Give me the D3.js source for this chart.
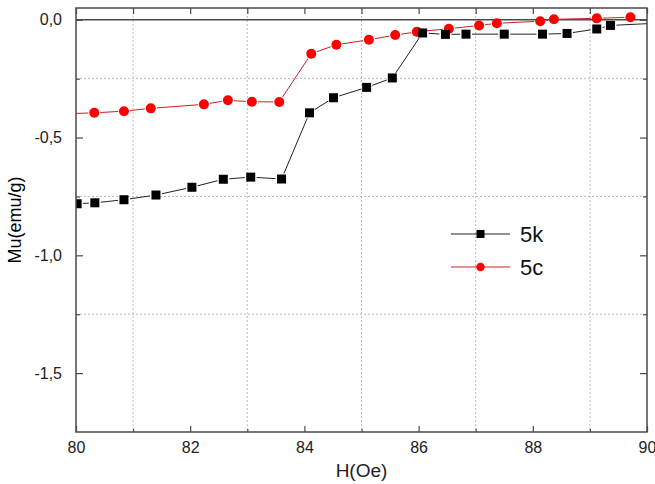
<!DOCTYPE html>
<html>
<head>
<meta charset="utf-8">
<script src="https://cdn.jsdelivr.net/npm/d3@7"></script>
<style>
  body { margin: 0; background: #fff; }
  svg { display: block; font-family: "Liberation Sans", Arial, sans-serif; }
</style>
</head>
<body>
<div class="main"></div>
<script>
// Données
const h5k = [80.02, 80.33, 80.84, 81.40, 82.03, 82.58, 83.06, 83.60, 84.09, 84.51, 85.09, 85.54, 86.07, 86.47, 86.83, 87.50, 88.17, 88.60, 89.12, 89.36, 90.40];
const mu5k = [-0.781, -0.777, -0.764, -0.744, -0.711, -0.677, -0.668, -0.676, -0.395, -0.331, -0.287, -0.247, -0.056, -0.062, -0.061, -0.061, -0.061, -0.058, -0.039, -0.024, -0.012];
const h5c = [79.70, 80.32, 80.84, 81.31, 82.24, 82.66, 83.08, 83.56, 84.12, 84.56, 85.13, 85.59, 85.97, 86.53, 87.06, 87.37, 88.13, 88.37, 89.12, 89.71];
const mu5c = [-0.400, -0.395, -0.388, -0.376, -0.359, -0.342, -0.348, -0.349, -0.144, -0.106, -0.085, -0.065, -0.051, -0.038, -0.024, -0.015, -0.006, 0.002, 0.006, 0.011];
const xTicks = [80, 82, 84, 86, 88, 90];
const xMinor = [81, 83, 85, 87, 89];
const yTicks = [0, -0.5, -1.0, -1.5];
const yMinor = [-0.25, -0.75, -1.25];
const seriesNames = ['5k', '5c'];

// Paramètres de la visualisation
const width = 655;
const height = 484;
const margin = { top: 8, right: 8, bottom: 52, left: 76 };
const frameColor = '#4a4a4a';
const textColor = '#222';

const svg = d3.select('.main')
  .append('svg')
  .attr('width', width)
  .attr('height', height);

const x = d3.scaleLinear()
  .domain([80, 90])
  .range([margin.left, width - margin.right]);

const y = d3.scaleLinear()
  .domain([-1.75, 0.05])
  .range([height - margin.bottom, margin.top]);

const fmt = d => d3.format('.1f')(d).replace('.', ',').replace('−', '-');

// Grille pointillée (sur les graduations mineures)
svg.append('g')
  .selectAll('line')
  .data(xMinor)
  .enter()
  .append('line')
  .attr('x1', d => x(d)).attr('x2', d => x(d))
  .attr('y1', margin.top).attr('y2', height - margin.bottom)
  .attr('stroke', '#bdbdbd')
  .attr('stroke-dasharray', '2,2');

svg.append('g')
  .selectAll('line')
  .data(yMinor)
  .enter()
  .append('line')
  .attr('y1', d => y(d)).attr('y2', d => y(d))
  .attr('x1', margin.left).attr('x2', width - margin.right)
  .attr('stroke', '#bdbdbd')
  .attr('stroke-dasharray', '2,2');

// Ligne zéro
svg.append('line')
  .attr('x1', margin.left).attr('x2', width - margin.right)
  .attr('y1', y(0)).attr('y2', y(0))
  .attr('stroke', frameColor)
  .attr('stroke-width', 1.5);

// Découpe de la zone de tracé
svg.append('clipPath')
  .attr('id', 'clip')
  .append('rect')
  .attr('x', margin.left).attr('y', margin.top)
  .attr('width', width - margin.left - margin.right)
  .attr('height', height - margin.top - margin.bottom);

const plot = svg.append('g').attr('clip-path', 'url(#clip)');

function segments(hs, mus, gap) {
  const pts = hs.map((h, i) => [x(h), y(mus[i])]);
  const segs = [];
  for (let i = 0; i < pts.length - 1; i++) {
    const [x0, y0] = pts[i], [x1, y1] = pts[i + 1];
    const len = Math.hypot(x1 - x0, y1 - y0);
    if (len <= 2 * gap) continue;
    const ux = (x1 - x0) / len, uy = (y1 - y0) / len;
    segs.push([x0 + ux * gap, y0 + uy * gap, x1 - ux * gap, y1 - uy * gap]);
  }
  return segs;
}

// Série 5c (rouge)
plot.append('g')
  .selectAll('line')
  .data(segments(h5c, mu5c, 6))
  .enter()
  .append('line')
  .attr('x1', d => d[0]).attr('y1', d => d[1])
  .attr('x2', d => d[2]).attr('y2', d => d[3])
  .attr('stroke', '#cc2020')
  .attr('stroke-width', 1);

plot.append('g')
  .selectAll('circle')
  .data(h5c.map((h, i) => [h, mu5c[i]]))
  .enter()
  .append('circle')
  .attr('cx', d => x(d[0]))
  .attr('cy', d => y(d[1]))
  .attr('r', 5)
  .attr('fill', '#ff0000');

// Série 5k (noire)
plot.append('g')
  .selectAll('line')
  .data(segments(h5k, mu5k, 6))
  .enter()
  .append('line')
  .attr('x1', d => d[0]).attr('y1', d => d[1])
  .attr('x2', d => d[2]).attr('y2', d => d[3])
  .attr('stroke', '#222')
  .attr('stroke-width', 1);

plot.append('g')
  .selectAll('rect')
  .data(h5k.map((h, i) => [h, mu5k[i]]))
  .enter()
  .append('rect')
  .attr('x', d => x(d[0]) - 4.5)
  .attr('y', d => y(d[1]) - 4.5)
  .attr('width', 9)
  .attr('height', 9)
  .attr('fill', '#000');

// Cadre
svg.append('rect')
  .attr('x', margin.left).attr('y', margin.top)
  .attr('width', width - margin.left - margin.right)
  .attr('height', height - margin.top - margin.bottom)
  .attr('fill', 'none')
  .attr('stroke', frameColor)
  .attr('stroke-width', 1.5);

// Axes (graduations vers l'intérieur)
const axisStyle = g => {
  g.select('.domain').remove();
  g.selectAll('line').attr('stroke', frameColor).attr('stroke-width', 1.2);
  g.selectAll('text').attr('fill', textColor).style('font-size', '16px');
};

svg.append('g')
  .attr('transform', `translate(0, ${height - margin.bottom})`)
  .call(d3.axisBottom(x).tickValues(xTicks).tickSize(-6).tickPadding(10).tickFormat(d3.format('d')))
  .call(axisStyle);

svg.append('g')
  .attr('transform', `translate(0, ${height - margin.bottom})`)
  .call(d3.axisBottom(x).tickValues(xMinor).tickSize(-3).tickFormat(''))
  .call(axisStyle);

svg.append('g')
  .attr('transform', `translate(0, ${margin.top})`)
  .call(d3.axisTop(x).tickValues(xTicks.concat(xMinor)).tickSize(-6).tickFormat(''))
  .call(axisStyle);

svg.append('g')
  .attr('transform', `translate(${margin.left}, 0)`)
  .call(d3.axisLeft(y).tickValues(yTicks).tickSize(-7).tickPadding(14).tickFormat(fmt))
  .call(axisStyle);

svg.append('g')
  .attr('transform', `translate(${margin.left}, 0)`)
  .call(d3.axisLeft(y).tickValues(yMinor).tickSize(-4).tickFormat(''))
  .call(axisStyle);

svg.append('g')
  .attr('transform', `translate(${width - margin.right}, 0)`)
  .call(d3.axisRight(y).tickValues(yTicks).tickSize(-7).tickFormat(''))
  .call(axisStyle);

svg.append('g')
  .attr('transform', `translate(${width - margin.right}, 0)`)
  .call(d3.axisRight(y).tickValues(yMinor).tickSize(-4).tickFormat(''))
  .call(axisStyle);

// Titres des axes
svg.append('text')
  .attr('x', (margin.left + width - margin.right) / 2)
  .attr('y', 477)
  .attr('text-anchor', 'middle')
  .attr('fill', textColor)
  .style('font-size', '19px')
  .text('H(Oe)');

svg.append('text')
  .attr('transform', `translate(21, ${(margin.top + height - margin.bottom) / 2}) rotate(-90)`)
  .attr('text-anchor', 'middle')
  .attr('fill', '#000')
  .style('font-size', '18px')
  .text('Mu(emu/g)');

// Légende
const legend = svg.append('g').attr('transform', 'translate(451, 234)');
const legendRows = legend.selectAll('g')
  .data(seriesNames)
  .enter()
  .append('g')
  .attr('transform', (d, i) => `translate(0, ${i * 33})`);

legendRows.append('line')
  .attr('x1', 0).attr('x2', 59)
  .attr('stroke', (d, i) => i === 0 ? '#222' : '#cc2020')
  .attr('stroke-width', 1);

legendRows.filter((d, i) => i === 0)
  .append('rect')
  .attr('x', 25.5).attr('y', -4).attr('width', 8).attr('height', 8)
  .attr('fill', '#000');

legendRows.filter((d, i) => i === 1)
  .append('circle')
  .attr('cx', 29.5).attr('r', 4.2)
  .attr('fill', '#ff0000');

legendRows.append('text')
  .attr('x', 69)
  .attr('dy', '0.35em')
  .attr('fill', '#111')
  .style('font-size', '22px')
  .text(d => d);
</script>
</body>
</html>
